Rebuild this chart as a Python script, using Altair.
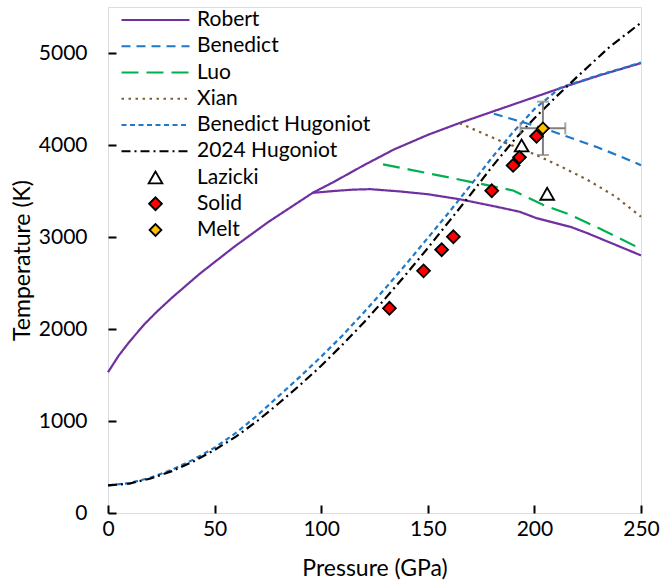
import altair as alt
import pandas as pd

# ---------------- data ----------------
robert_up_p = [0, 5, 10, 17, 23, 30, 37, 43, 59, 75, 96, 106, 120, 134, 150, 165, 180, 200, 215, 231, 250]
robert_up_t = [1530, 1710, 1860, 2050, 2190, 2340, 2480, 2600, 2890, 3160, 3480, 3600, 3780, 3950, 4110, 4240, 4360, 4520, 4640, 4760, 4890]
robert_lo_p = [96, 106, 115, 123, 137, 150, 165, 182, 193, 201, 217, 225, 250]
robert_lo_t = [3480, 3500, 3515, 3520, 3495, 3465, 3410, 3330, 3275, 3205, 3110, 3040, 2800]

benedict_p = [181, 195, 207, 218, 229, 240, 250]
benedict_t = [4340, 4245, 4160, 4070, 3980, 3880, 3780]

luo_p = [129, 142, 155, 170, 185, 190, 196, 204, 217, 232, 250]
luo_t = [3790, 3730, 3670, 3600, 3530, 3505, 3440, 3350, 3240, 3076, 2870]

xian_p = [165, 175, 185, 193, 201, 213, 225, 238, 250]
xian_t = [4236, 4135, 4036, 3965, 3891, 3760, 3620, 3440, 3220]

bhug_p = [0, 10, 20, 30, 40, 50, 60, 70, 80, 90, 100, 110, 120, 130, 140, 150, 160, 170, 180, 190, 200, 212, 215, 231, 250]
bhug_t = [300, 325, 385, 470, 580, 710, 870, 1060, 1270, 1480, 1700, 1930, 2180, 2440, 2710, 2990, 3270, 3560, 3860, 4140, 4390, 4620, 4645, 4765, 4895]

hug24_p = [0, 10, 20, 30, 40, 50, 60, 70, 80, 90, 100, 110, 120, 130, 140, 150, 160, 170, 180, 190, 200, 210, 220, 235, 250]
hug24_t = [300, 320, 375, 455, 560, 685, 830, 1000, 1190, 1390, 1600, 1830, 2070, 2330, 2600, 2880, 3170, 3460, 3760, 4040, 4290, 4520, 4740, 5060, 5330]

lazicki_p = [194, 206]
lazicki_t = [3995, 3470]

solid_p = [132, 148, 156.5, 162, 180, 190, 193, 201]
solid_t = [2225, 2632, 2862, 3003, 3503, 3778, 3866, 4095]

melt_p = [204]
melt_t = [4181]
melt_p_err = [10.5]
melt_t_err = [290]

line_names = ["Robert", "Benedict", "Luo", "Xian", "Benedict Hugoniot", "2024 Hugoniot"]
line_colors = ["#7030A0", "#1F78C8", "#00B050", "#7F5F30", "#1F78C8", "#000000"]
line_dashes = [[1, 0], [9, 6], [17, 8], [2.5, 4.5], [5, 3.5], [9, 4, 2, 4]]

point_names = ["Lazicki", "Solid", "Melt"]
point_shapes = ["triangle-up", "diamond", "diamond"]
point_fills = ["#FFFFFF", "#FF0000", "#FFC000"]
point_strokes = ["#000000", "#000000", "#000000"]
point_sizes = [190, 140, 140]

# ---------------- tables ----------------
rows = []
def add(name, seg, ps, ts):
    for i, (p, t) in enumerate(zip(ps, ts)):
        rows.append({"name": name, "seg": seg, "i": i, "P": p, "T": t})

add("Robert", "r_up", robert_up_p, robert_up_t)
add("Robert", "r_lo", robert_lo_p, robert_lo_t)
add("Benedict", "ben", benedict_p, benedict_t)
add("Luo", "luo", luo_p, luo_t)
add("Xian", "xian", xian_p, xian_t)
add("Benedict Hugoniot", "bhug", bhug_p, bhug_t)
add("2024 Hugoniot", "h24", hug24_p, hug24_t)
lines_df = pd.DataFrame(rows)

pts = []
for p, t in zip(lazicki_p, lazicki_t):
    pts.append({"kind": "Lazicki", "P": p, "T": t})
for p, t in zip(solid_p, solid_t):
    pts.append({"kind": "Solid", "P": p, "T": t})
for p, t in zip(melt_p, melt_t):
    pts.append({"kind": "Melt", "P": p, "T": t})
pts_df = pd.DataFrame(pts)

melt_df = pd.DataFrame({"P": melt_p, "T": melt_t, "pe": melt_p_err, "te": melt_t_err})
melt_df["plo"] = melt_df["P"] - melt_df["pe"]
melt_df["phi"] = melt_df["P"] + melt_df["pe"]
melt_df["tlo"] = melt_df["T"] - melt_df["te"]
melt_df["thi"] = melt_df["T"] + melt_df["te"]
caps_h = pd.DataFrame({"P": list(melt_df["plo"]) + list(melt_df["phi"]), "T": list(melt_df["T"]) * 2})
caps_v = pd.DataFrame({"P": list(melt_df["P"]) * 2, "T": list(melt_df["tlo"]) + list(melt_df["thi"])})

# ---------------- styling ----------------
FONT = "Lato"
FS = 21
TFS = 23
GREY = "#7F7F7F"
ROW_H = 20
ROW_PAD = 5.25
ROW = 26.25

xaxis = alt.Axis(values=[0, 50, 100, 150, 200, 250], title="Pressure (GPa)", domain=False, grid=False,
                 offset=-8, tickSize=8, tickWidth=2, tickColor="black", labelFont=FONT, labelFontSize=FS,
                 labelColor="black", labelPadding=5, labelFlush=False, titleFont=FONT, titleFontSize=TFS,
                 titleFontWeight="normal", titleColor="black", titlePadding=18)
yaxis = alt.Axis(values=[0, 1000, 2000, 3000, 4000, 5000], format="d", title="Temperature (K)", domain=False,
                 grid=False, offset=-8, tickSize=8, tickWidth=2, tickColor="black", labelFont=FONT,
                 labelFontSize=FS, labelColor="black", labelPadding=21, labelFlush=False, titleFont=FONT,
                 titleFontSize=TFS, titleFontWeight="normal", titleColor="black", titlePadding=4)

line_legend = alt.Legend(
    title=None, orient="none", legendX=12, legendY=3, padding=0,
    symbolSize=4624, symbolType="stroke", symbolStrokeWidth=2.2,
    clipHeight=ROW_H, rowPadding=ROW_PAD, labelOffset=6,
    labelFont=FONT, labelFontSize=FS, labelColor="black", labelLimit=400,
)
point_legend = alt.Legend(
    title=None, orient="none", legendX=37, legendY=3 + 6 * ROW, padding=0,
    symbolStrokeWidth=1.8, symbolOpacity=1,
    clipHeight=ROW_H, rowPadding=ROW_PAD, labelOffset=31,
    labelFont=FONT, labelFontSize=FS, labelColor="black", labelLimit=400,
)

xs = alt.Scale(domain=[0, 250], nice=False)
ys = alt.Scale(domain=[0, 5500], nice=False)

lines = alt.Chart(lines_df).mark_line(strokeWidth=2.2).encode(
    x=alt.X("P:Q", scale=xs, axis=xaxis),
    y=alt.Y("T:Q", scale=ys, axis=yaxis),
    color=alt.Color("name:N", scale=alt.Scale(domain=line_names, range=line_colors), legend=line_legend),
    strokeDash=alt.StrokeDash("name:N", scale=alt.Scale(domain=line_names, range=line_dashes), legend=line_legend),
    detail="seg:N",
    order="i:Q",
)

eb_h = alt.Chart(melt_df).mark_rule(color=GREY, strokeWidth=2).encode(x="plo:Q", x2="phi:Q", y="T:Q")
eb_v = alt.Chart(melt_df).mark_rule(color=GREY, strokeWidth=2).encode(x="P:Q", y="tlo:Q", y2="thi:Q")
cap_h = alt.Chart(caps_h).mark_tick(orient="vertical", size=12, thickness=2, color=GREY).encode(x="P:Q", y="T:Q")
cap_v = alt.Chart(caps_v).mark_tick(orient="horizontal", size=12, thickness=2, color=GREY).encode(x="P:Q", y="T:Q")

points = alt.Chart(pts_df).mark_point(filled=True, strokeWidth=1.8, opacity=1).encode(
    x="P:Q",
    y="T:Q",
    fill=alt.Fill("kind:N", scale=alt.Scale(domain=point_names, range=point_fills), legend=point_legend),
    stroke=alt.Stroke("kind:N", scale=alt.Scale(domain=point_names, range=point_strokes), legend=point_legend),
    shape=alt.Shape("kind:N", scale=alt.Scale(domain=point_names, range=point_shapes), legend=point_legend),
    size=alt.Size("kind:O", scale=alt.Scale(domain=point_names, range=point_sizes), legend=point_legend),
)

chart = alt.layer(lines, eb_h, eb_v, cap_h, cap_v, points).properties(
    width=533, height=506,
    autosize=alt.AutoSizeParams(type="none"),
    padding={"left": 108, "top": 7, "right": 20, "bottom": 68},
    background="white",
).configure_view(stroke="black", strokeWidth=2).configure(font=FONT)

chart.save("out.html", embed_options={"renderer": "svg", "actions": False})
